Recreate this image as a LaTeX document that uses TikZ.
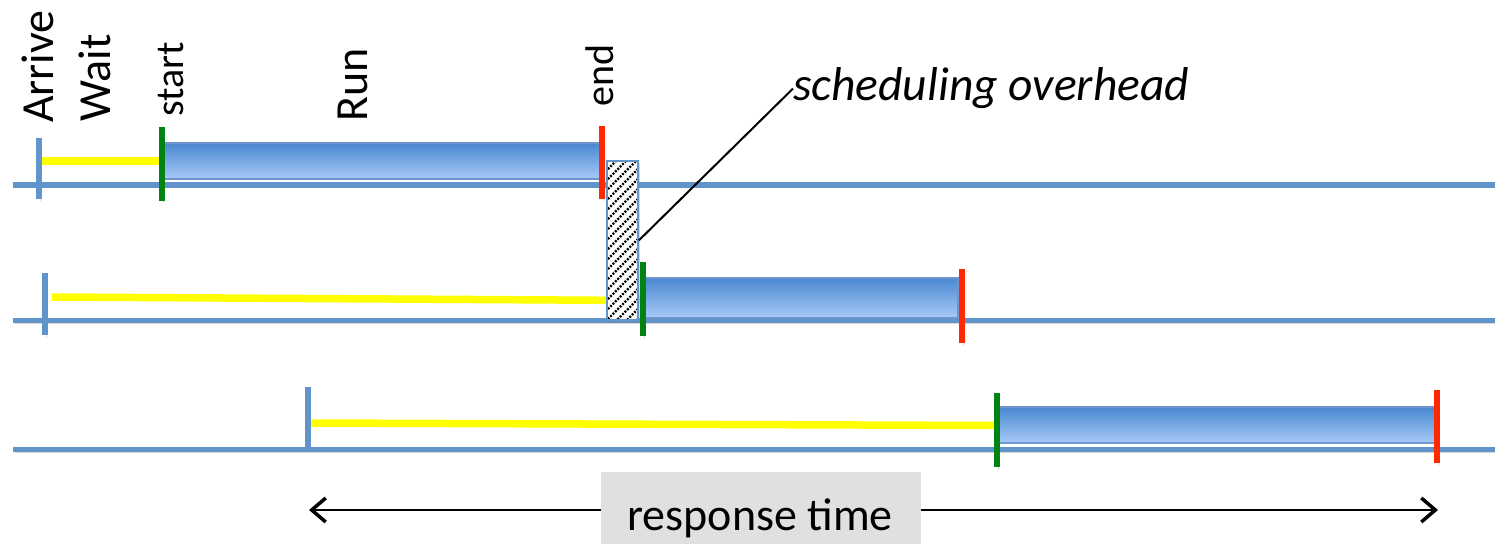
\documentclass[tikz,border=0pt]{standalone}
\usepackage{fontspec}
\setmainfont{Carlito}
\usetikzlibrary{arrows.meta,calc}
\definecolor{lineblue}{RGB}{98,148,204}
\definecolor{waityellow}{RGB}{255,255,0}
\definecolor{startgreen}{RGB}{0,130,20}
\definecolor{endred}{RGB}{255,40,0}
\definecolor{bartop}{RGB}{74,136,208}
\definecolor{barbot}{RGB}{168,202,248}
\definecolor{barrim}{RGB}{110,150,205}
\definecolor{labelgray}{RGB}{224,224,224}
\tikzset{
  shadowed/.style={preaction={draw=black!50,opacity=0.3,transform canvas={shift={(1.5pt,-2.5pt)}}}},
  timeline/.style={draw=lineblue,line width=5.5pt,shadowed},
  arrivetick/.style={draw=lineblue,line width=5.5pt,shadowed},
  waitline/.style={draw=waityellow,line width=7.5pt},
  starttick/.style={draw=startgreen,line width=6pt,shadowed},
  endtick/.style={draw=endred,line width=6pt,shadowed},
  runbar/.style={top color=bartop,bottom color=barbot,draw=barrim,line width=1.2pt},
  biglabel/.style={font=\fontsize{46}{50}\selectfont,rotate=90,anchor=base west,inner sep=0pt},
  smalllabel/.style={font=\fontsize{40}{44}\selectfont,rotate=90,anchor=base west,inner sep=0pt},
}
\begin{document}
\begin{tikzpicture}[x=1pt,y=-1pt]
\useasboundingbox (0,0) rectangle (1495,545);

% column labels
\node[biglabel] (larrive) at (53,123) {Arrive};
\node[biglabel] (lwait) at (110,122) {Wait};
\node[smalllabel] (lstart) at (183,117) {start};
\node[biglabel] (lrun) at (367,122) {Run};
\node[smalllabel] (lend) at (613,107) {end};

% job 1
\draw[timeline] (13,185) -- (1495,185);
\shade[runbar] (163,143) rectangle (600,179);
\draw[waitline] (40,161) -- (160,161);
\draw[arrivetick] (39,138) -- (39,199);
\draw[starttick] (162,127) -- (162,201);
\draw[endtick] (602,126) -- (602,199);

% job 2
\draw[timeline] (13,320.5) -- (1495,320.5);
\shade[runbar] (645,278) rectangle (958,318);
\draw[waitline] (52,297) -- (642,300.5);
\draw[arrivetick] (45,273) -- (45,335);
\draw[starttick] (643,262) -- (643,336);
\draw[endtick] (962,269) -- (962,343);

% job 3
\draw[timeline] (13,449.5) -- (1495,449.5);
\shade[runbar] (999,407) rectangle (1435,443);
\draw[waitline] (309,423) -- (996,425.5);
\draw[arrivetick] (308,387) -- (308,448);
\draw[starttick] (997,393) -- (997,467);
\draw[endtick] (1437,390) -- (1437,463);

% context switch between job 1 and job 2
\node[draw=lineblue,line width=1.5pt,fill=white,minimum width=31pt,minimum height=159pt,inner sep=0pt,
  shadowed,
  path picture={
    \foreach \k in {-20,...,30}
      \draw[black,line width=2.2pt,dash pattern=on 2pt off 1.4pt]
        ($(path picture bounding box.south west)+(-40,-\k*10)$) -- ++(80,-80);
  }] (ovh) at (622.5,240.5) {};
\node[font=\fontsize{47.5}{52}\selectfont\itshape,anchor=base west,inner sep=0pt] (sched) at (793,101) {scheduling overhead};
\draw[black,line width=2pt] (ovh.east) -- (sched.west);

% response time of job 3
\coordinate (rtl) at (309,510);
\coordinate (rtr) at (1438,510);
\draw[black,line width=2.5pt,{Straight Barb[length=14pt,width=24pt,line width=3.5pt]}-{Straight Barb[length=14pt,width=24pt,line width=3.5pt]}] (rtl) -- (rtr);
\node[fill=labelgray,minimum width=320pt,minimum height=72pt,inner sep=0pt] (rtbox) at (761,508) {};
\node[font=\fontsize{46}{50}\selectfont,anchor=base,inner sep=0pt] (rtext) at (760,530) {response time};
\end{tikzpicture}
\end{document}
